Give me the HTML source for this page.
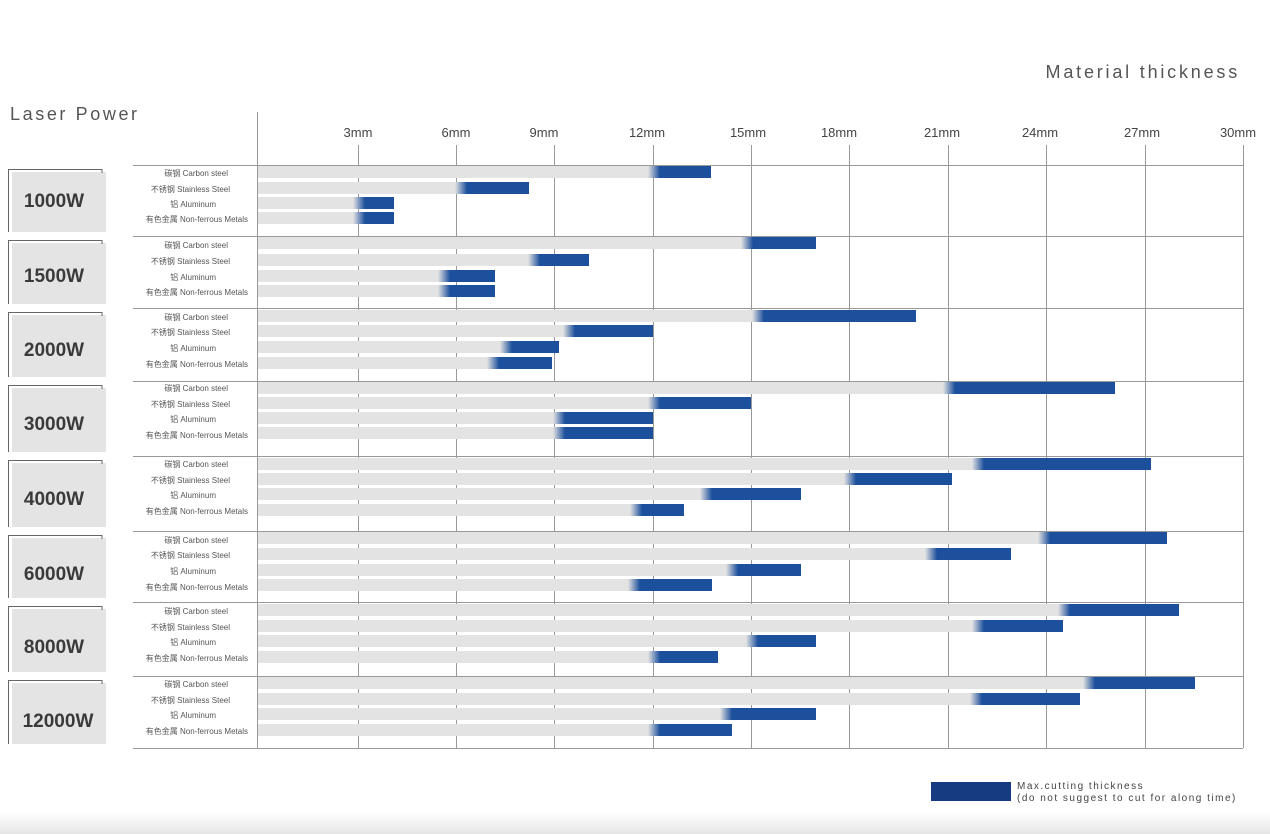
<!DOCTYPE html>
<html><head><meta charset="utf-8"><style>
body{margin:0;background:#fff;}
svg{display:block;font-family:"Liberation Sans","Noto Sans CJK SC",sans-serif;}
</style></head><body>
<svg width="1270" height="834" viewBox="0 0 1270 834" xmlns="http://www.w3.org/2000/svg">
<defs>
<linearGradient id="g" x1="0" x2="1" y1="0" y2="0"><stop offset="0" stop-color="#e3e3e3"/><stop offset="1" stop-color="#1c4f9c"/></linearGradient>
<linearGradient id="bot" x1="0" x2="0" y1="0" y2="1"><stop offset="0" stop-color="#fff"/><stop offset="1" stop-color="#e6e6e6"/></linearGradient>
</defs>
<rect x="0" y="812" width="1270" height="22" fill="url(#bot)"/>
<text x="1240" y="78" font-size="18" fill="#555" text-anchor="end" letter-spacing="2.8">Material thickness</text>
<text x="10" y="120" font-size="18" fill="#555" letter-spacing="2.6">Laser Power</text>
<g font-size="13" fill="#444" text-anchor="middle">
<text x="358" y="137">3mm</text><text x="456" y="137">6mm</text><text x="544" y="137">9mm</text><text x="647" y="137">12mm</text><text x="748" y="137">15mm</text><text x="839" y="137">18mm</text><text x="942" y="137">21mm</text><text x="1040" y="137">24mm</text><text x="1142" y="137">27mm</text><text x="1238" y="137">30mm</text>
</g>
<g stroke="#999" stroke-width="1">
<line x1="257.5" y1="112" x2="257.5" y2="748"/>
<line x1="358.5" y1="145" x2="358.5" y2="748"/><line x1="456.5" y1="145" x2="456.5" y2="748"/><line x1="554.5" y1="145" x2="554.5" y2="748"/><line x1="653.5" y1="145" x2="653.5" y2="748"/><line x1="751.5" y1="145" x2="751.5" y2="748"/><line x1="849.5" y1="145" x2="849.5" y2="748"/><line x1="948.5" y1="145" x2="948.5" y2="748"/><line x1="1046.5" y1="145" x2="1046.5" y2="748"/><line x1="1145.5" y1="145" x2="1145.5" y2="748"/><line x1="1243.5" y1="145" x2="1243.5" y2="748"/>
<line x1="133" y1="165.5" x2="1243" y2="165.5"/><line x1="133" y1="236.5" x2="1243" y2="236.5"/><line x1="133" y1="308.5" x2="1243" y2="308.5"/><line x1="133" y1="381.5" x2="1243" y2="381.5"/><line x1="133" y1="456.5" x2="1243" y2="456.5"/><line x1="133" y1="531.5" x2="1243" y2="531.5"/><line x1="133" y1="602.5" x2="1243" y2="602.5"/><line x1="133" y1="676.5" x2="1243" y2="676.5"/><line x1="133" y1="748.5" x2="1243" y2="748.5"/>
</g>
<g id="boxes" fill="#e4e4e4" stroke="none"></g>
<g id="bars"></g>
<g font-size="19" font-weight="bold" fill="#3a3a3a" text-anchor="middle">
<text x="54" y="207">1000W</text><text x="54" y="282">1500W</text><text x="54" y="356">2000W</text><text x="54" y="430">3000W</text><text x="54" y="505">4000W</text><text x="54" y="580">6000W</text><text x="54" y="653">8000W</text><text x="58" y="727">12000W</text>
</g>
<g font-size="8" fill="#555" text-anchor="end">
<text x="228" y="176">碳钢 Carbon steel</text><text x="230" y="192">不锈钢 Stainless Steel</text><text x="216" y="207">铝 Aluminum</text><text x="248" y="222">有色金属 Non-ferrous Metals</text>
<text x="228" y="248">碳钢 Carbon steel</text><text x="230" y="264">不锈钢 Stainless Steel</text><text x="216" y="280">铝 Aluminum</text><text x="248" y="295">有色金属 Non-ferrous Metals</text>
<text x="228" y="320">碳钢 Carbon steel</text><text x="230" y="335">不锈钢 Stainless Steel</text><text x="216" y="351">铝 Aluminum</text><text x="248" y="367">有色金属 Non-ferrous Metals</text>
<text x="228" y="391">碳钢 Carbon steel</text><text x="230" y="407">不锈钢 Stainless Steel</text><text x="216" y="422">铝 Aluminum</text><text x="248" y="438">有色金属 Non-ferrous Metals</text>
<text x="228" y="467">碳钢 Carbon steel</text><text x="230" y="483">不锈钢 Stainless Steel</text><text x="216" y="498">铝 Aluminum</text><text x="248" y="514">有色金属 Non-ferrous Metals</text>
<text x="228" y="543">碳钢 Carbon steel</text><text x="230" y="558">不锈钢 Stainless Steel</text><text x="216" y="574">铝 Aluminum</text><text x="248" y="590">有色金属 Non-ferrous Metals</text>
<text x="228" y="614">碳钢 Carbon steel</text><text x="230" y="630">不锈钢 Stainless Steel</text><text x="216" y="645">铝 Aluminum</text><text x="248" y="661">有色金属 Non-ferrous Metals</text>
<text x="228" y="687">碳钢 Carbon steel</text><text x="230" y="703">不锈钢 Stainless Steel</text><text x="216" y="718">铝 Aluminum</text><text x="248" y="734">有色金属 Non-ferrous Metals</text>
</g>
<rect x="931" y="782" width="80" height="19" fill="#173b80"/>
<text x="1017" y="789" font-size="10" fill="#444" letter-spacing="1.5">Max.cutting thickness</text>
<text x="1017" y="801" font-size="10" fill="#444" letter-spacing="1.5">(do not suggest to cut for along time)</text>
<script>
var NS="http://www.w3.org/2000/svg";
function el(p,t,a){var e=document.createElementNS(NS,t);for(var k in a)e.setAttribute(k,a[k]);p.appendChild(e);return e;}
var tops=[165,236,308,381,456,531,602,676,748];
var bx=document.getElementById('boxes');
for(var i=0;i<8;i++){var t=tops[i]+4,b=tops[i+1]-4;
el(bx,'rect',{x:12,y:t+3,width:94,height:b-t-3});
el(bx,'path',{d:'M8.5 '+(b)+' V'+t+'.5 H102 V'+(t+4),fill:'none',stroke:'#666','stroke-width':1});}
var rows=[[172,188,203,218],[243,260,276,291],[316,331,347,363],[388,403,418,433],[464,479,494,510],[538,554,570,585],[610,626,641,657],[683,699,714,730]];
var d=[[[653,711],[460,529],[358,394],[358,394]],[[746,816],[533,589],[443,495],[443,495]],[[757,916],[568,653],[505,559],[492,552]],[[948,1115],[653,751],[558,653],[558,653]],[[977,1151],[849,952],[705,801],[635,684]],[[1043,1167],[930,1011],[731,801],[633,712]],[[1063,1179],[977,1063],[751,816],[653,718]],[[1088,1195],[975,1080],[725,816],[653,732]]];
var br=document.getElementById('bars');
for(var i=0;i<8;i++)for(var j=0;j<4;j++){var y=rows[i][j]-6,s=d[i][j][0],e=d[i][j][1];
el(br,'rect',{x:258,y:y,width:s-258,height:12,fill:'#e3e3e3'});
el(br,'rect',{x:s-5,y:y,width:12,height:12,fill:'url(#g)'});
el(br,'rect',{x:s+7,y:y,width:e-s-7,height:12,fill:'#1c4f9c'});}
</script>
</svg>
</body></html>
